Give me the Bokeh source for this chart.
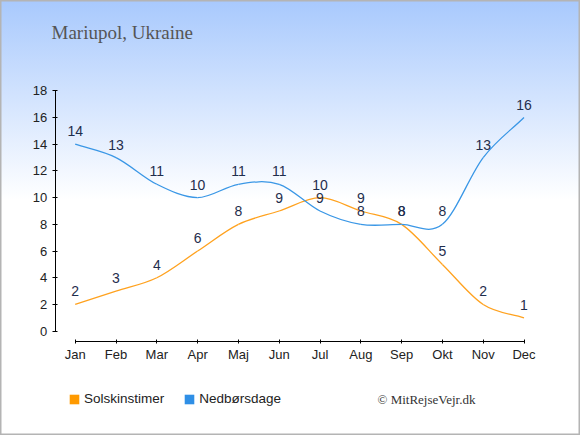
from bokeh.plotting import figure
from bokeh.models import Range1d, FixedTicker, Label, Legend, LegendItem
from bokeh.embed import file_html
from bokeh.resources import INLINE
from bokeh.core.properties import value

# ---- data ----
months = ["Jan", "Feb", "Mar", "Apr", "Maj", "Jun", "Jul", "Aug", "Sep", "Okt", "Nov", "Dec"]
sun = [2, 3, 4, 6, 8, 9, 10, 9, 8, 5, 2, 1]
rain = [14, 13, 11, 10, 11, 11, 9, 8, 8, 8, 13, 16]
y_ticks = [0, 2, 4, 6, 8, 10, 12, 14, 16, 18]
title_text = "Mariupol, Ukraine"
sun_name = "Solskinstimer"
rain_name = "Nedbørsdage"
credit_text = "© MitRejseVejr.dk"

SUN_C = "#ffa21f"
RAIN_C = "#3a97e6"
LEG_SUN_C = "#ff9a00"
LEG_RAIN_C = "#2f8fe6"
LABEL_C = "#1f2e4d"

# ---- geometry (pixels of the 580x435 canvas) ----
W, H = 580, 435
X_PX0, X_STEP = 74.7, 40.8      # pixel of first month, pixels per month
Y_PX0, Y_STEP = 330.7, 13.356   # pixel of value 0, pixels per unit
X0 = -X_PX0 / X_STEP
X1 = X0 + W / X_STEP
Y1 = Y_PX0 / Y_STEP
Y0 = Y1 - H / Y_STEP


def dx(px):
    return X0 + px / X_STEP


def dy(py):
    return Y1 - py / Y_STEP


p = figure(width=W, height=H, output_backend="svg", toolbar_location=None,
           x_range=Range1d(X0, X1), y_range=Range1d(Y0, Y1),
           min_border_left=0, min_border_top=0, min_border_right=0, min_border_bottom=0)
p.title.visible = False
p.background_fill_color = None
p.border_fill_color = None
p.outline_line_color = "#b4b4b4"
p.outline_line_width = 2
p.grid.visible = False
p.styles = {"background": "linear-gradient(to bottom, #a8c9fd 0px, #ffffff 200px)"}

xs = list(range(len(months)))


def bezier_parts(vals):
    n = len(vals)
    m = []
    for i in range(n):
        if i == 0:
            m.append(vals[1] - vals[0])
        elif i == n - 1:
            m.append(vals[-1] - vals[-2])
        else:
            m.append((vals[i + 1] - vals[i - 1]) / 2.0)
    d = dict(x0=[], y0=[], x1=[], y1=[], cx0=[], cy0=[], cx1=[], cy1=[])
    for i in range(n - 1):
        d["x0"].append(xs[i]); d["y0"].append(vals[i])
        d["x1"].append(xs[i + 1]); d["y1"].append(vals[i + 1])
        d["cx0"].append(xs[i] + 1 / 3); d["cy0"].append(vals[i] + m[i] / 3)
        d["cx1"].append(xs[i + 1] - 1 / 3); d["cy1"].append(vals[i + 1] - m[i + 1] / 3)
    return d


for vals, col in ((sun, SUN_C), (rain, RAIN_C)):
    b = bezier_parts(vals)
    p.bezier(x0=b["x0"], y0=b["y0"], x1=b["x1"], y1=b["y1"],
             cx0=b["cx0"], cy0=b["cy0"], cx1=b["cx1"], cy1=b["cy1"],
             line_color=col, line_width=1.3)
    p.text(x=xs, y=vals, text=[str(v) for v in vals], text_align="center",
           text_baseline="middle", y_offset=-13, text_color=LABEL_C,
           text_font=value("Liberation Sans"), text_font_size="14px")

# legend swatches: zero-area quads anchored on the first data point
r_sun = p.quad(left=[xs[0]], right=[xs[0]], top=[sun[0]], bottom=[sun[0]],
               fill_color=LEG_SUN_C, line_color=None)
r_rain = p.quad(left=[xs[0]], right=[xs[0]], top=[rain[0]], bottom=[rain[0]],
                fill_color=LEG_RAIN_C, line_color=None)
legend = Legend(items=[LegendItem(label=sun_name, renderers=[r_sun]),
                       LegendItem(label=rain_name, renderers=[r_rain])],
                orientation="horizontal", location=(68, 29),
                glyph_width=12, glyph_height=12, label_standoff=4, spacing=19,
                padding=0, margin=0, border_line_color=None, background_fill_alpha=0,
                label_text_font="Liberation Sans", label_text_font_size="13.5px",
                label_text_color="#222222", label_height=12)
p.add_layout(legend, "center")

# axes
xa = p.xaxis[0]
xa.fixed_location = dy(341.3)
xa.bounds = (0, len(months) - 1)
xa.ticker = FixedTicker(ticks=xs)
xa.major_label_overrides = {i: m for i, m in enumerate(months)}
ya = p.yaxis[0]
ya.fixed_location = dx(54.7)
ya.bounds = (y_ticks[0], y_ticks[-1])
ya.ticker = FixedTicker(ticks=y_ticks)
for ax in (xa, ya):
    ax.minor_tick_line_color = None
    ax.axis_line_color = "#000000"
    ax.major_tick_line_color = "#000000"
    ax.major_label_text_font = "Liberation Sans"
    ax.major_label_text_font_size = "13px"
    ax.major_label_text_color = "#222222"
xa.major_tick_in = 2
xa.major_tick_out = 2
xa.major_label_standoff = 3
ya.major_tick_in = 2
ya.major_tick_out = 3

# title and credit
p.add_layout(Label(x=dx(51), y=dy(32), text=title_text, text_font="Liberation Serif",
                   text_font_size="19px", text_color="#555555", text_baseline="middle"))
p.add_layout(Label(x=dx(377), y=dy(398.5), text=credit_text, text_font="Liberation Serif",
                   text_font_size="13px", text_color="#333333", text_baseline="middle"))

open("out.html", "w").write(file_html(p, INLINE))
